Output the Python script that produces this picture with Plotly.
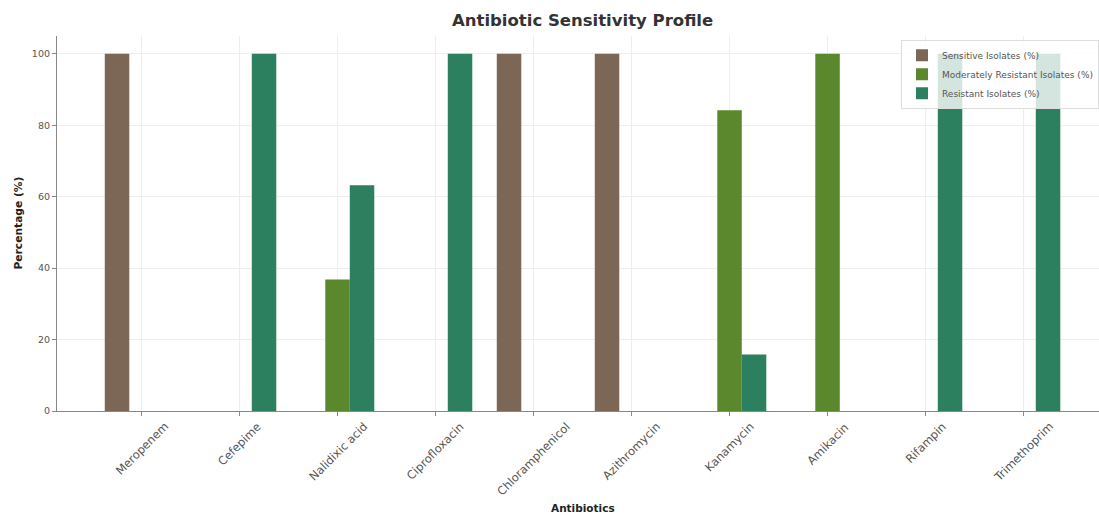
import plotly.graph_objects as go

antibiotics = ["Meropenem", "Cefepime", "Nalidixic acid", "Ciprofloxacin", "Chloramphenicol",
               "Azithromycin", "Kanamycin", "Amikacin", "Rifampin", "Trimethoprim"]
sensitive = [100, 0, 0, 0, 100, 100, 0, 0, 0, 0]
moderate = [0, 0, 36.8, 0, 0, 0, 84.2, 100, 0, 0]
resistant = [0, 100, 63.2, 100, 0, 0, 15.8, 0, 100, 100]
series_names = ["Sensitive Isolates (%)", "Moderately Resistant Isolates (%)", "Resistant Isolates (%)"]
colors = ["#7c6656", "#5b882d", "#2c7f5f"]
yticks = [0, 20, 40, 60, 80, 100]

FONT = "DejaVu Sans"
fig = go.Figure()
for name, vals, col in zip(series_names, [sensitive, moderate, resistant], colors):
    fig.add_trace(go.Bar(x=antibiotics, y=vals, name=name, marker_color=col,
                         marker_line_width=0))

fig.update_layout(
    width=1099, height=515,
    margin=dict(l=57, r=0, t=36, b=104, autoexpand=False),
    paper_bgcolor="white", plot_bgcolor="white",
    barmode="group", bargap=0.25, bargroupgap=0,
    font=dict(family=FONT, color="#444"),
    showlegend=True,
    legend=dict(x=1, xanchor="right", y=0.99, yanchor="top",
                bgcolor="rgba(255,255,255,0.8)", bordercolor="#dddddd", borderwidth=1,
                font=dict(size=9, color="#555"), tracegroupgap=0),
)
fig.update_xaxes(type="category", range=[-0.8625, 9.77], showticklabels=False,
                 showgrid=True, gridcolor="#eeeeee", gridwidth=1,
                 showline=True, linecolor="#888888", linewidth=1.2,
                 ticks="outside", ticklen=4, tickcolor="#888888", zeroline=False)
fig.update_yaxes(range=[0, 105], tickvals=yticks, ticktext=[str(v) for v in yticks],
                 showgrid=True, gridcolor="#eeeeee", gridwidth=1,
                 showline=True, linecolor="#888888", linewidth=1.2,
                 ticks="outside", ticklen=4, tickcolor="#888888", zeroline=False,
                 tickfont=dict(size=9.5, color="#555"))

anns = []
for name in antibiotics:
    anns.append(dict(x=name, xref="x", y=0, yref="paper", yanchor="top", xanchor="center",
                     yshift=-6, text=name, textangle=-45, showarrow=False,
                     font=dict(size=11.5, color="#555", family=FONT)))
anns.append(dict(x=4.5, xref="x", y=1, yref="paper", yanchor="middle", xanchor="center",
                 yshift=16, text="<b>Antibiotic Sensitivity Profile</b>", showarrow=False,
                 font=dict(size=16.5, color="#333", family=FONT)))
anns.append(dict(x=4.5, xref="x", y=0, yref="paper", yanchor="middle", xanchor="center",
                 yshift=-97, text="<b>Antibiotics</b>", showarrow=False,
                 font=dict(size=10.5, color="#222", family=FONT)))
anns.append(dict(x=0, xref="paper", y=0.5, yref="paper", yanchor="middle", xanchor="center",
                 xshift=-39, text="<b>Percentage (%)</b>", textangle=-90, showarrow=False,
                 font=dict(size=10.7, color="#222", family=FONT)))
fig.update_layout(annotations=anns)

fig.write_html("out.html", config={"displayModeBar": False},
               post_script=("document.body.style.margin='0';"
                            "document.body.style.overflow='hidden';"
                            "document.documentElement.style.overflow='hidden';"))
